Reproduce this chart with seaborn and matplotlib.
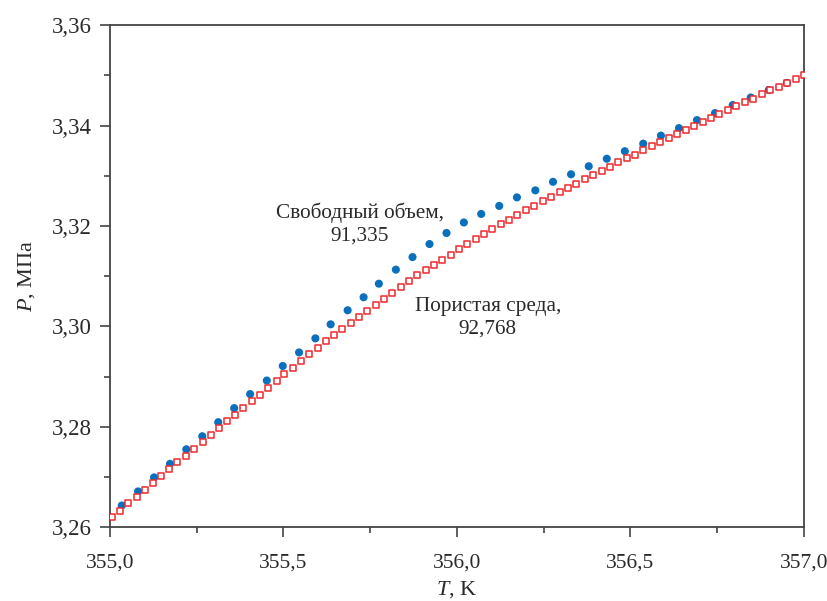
import numpy as np
import pandas as pd
import matplotlib
matplotlib.use("Agg")
import matplotlib.pyplot as plt
import seaborn as sns
from matplotlib.ticker import MultipleLocator, FuncFormatter

# Свободный объем (синие точки)
t_free = [354.986, 355.034, 355.081, 355.127, 355.173, 355.220, 355.266, 355.312, 355.358, 355.404,
          355.452, 355.498, 355.545, 355.592, 355.636, 355.685, 355.731, 355.775, 355.824, 355.872,
          355.921, 355.970, 356.020, 356.070, 356.122, 356.173, 356.226, 356.277, 356.329, 356.380,
          356.432, 356.484, 356.537, 356.588, 356.640, 356.692, 356.744, 356.795, 356.847, 356.899,
          356.951, 357.003]
p_free = [3.2615, 3.2643, 3.2671, 3.2699, 3.2726, 3.2755, 3.2781, 3.2809, 3.2837, 3.2865,
          3.2892, 3.2921, 3.2948, 3.2976, 3.3004, 3.3032, 3.3058, 3.3085, 3.3113, 3.3138,
          3.3164, 3.3186, 3.3207, 3.3224, 3.3240, 3.3257, 3.3271, 3.3288, 3.3303, 3.3319,
          3.3334, 3.3349, 3.3364, 3.3380, 3.3395, 3.3411, 3.3425, 3.3441, 3.3456, 3.3471,
          3.3485, 3.3501]

# Пористая среда (красные квадраты)
t_por = [354.981, 355.006, 355.029, 355.053, 355.077, 355.100, 355.123, 355.146, 355.171, 355.194,
         355.218, 355.242, 355.267, 355.290, 355.313, 355.337, 355.361, 355.384, 355.408, 355.432,
         355.456, 355.480, 355.503, 355.527, 355.551, 355.574, 355.599, 355.622, 355.646, 355.669,
         355.694, 355.718, 355.741, 355.766, 355.790, 355.814, 355.838, 355.862, 355.886, 355.910,
         355.934, 355.958, 355.982, 356.006, 356.030, 356.054, 356.078, 356.102, 356.126, 356.150,
         356.174, 356.198, 356.223, 356.247, 356.272, 356.296, 356.320, 356.344, 356.369, 356.393,
         356.417, 356.441, 356.465, 356.489, 356.513, 356.537, 356.561, 356.586, 356.611, 356.635,
         356.659, 356.684, 356.708, 356.732, 356.756, 356.781, 356.805, 356.829, 356.853, 356.878,
         356.902, 356.927, 356.952, 356.976, 357.001]
p_por = [3.2606, 3.2620, 3.2633, 3.2647, 3.2660, 3.2674, 3.2688, 3.2701, 3.2715, 3.2729,
         3.2742, 3.2756, 3.2770, 3.2784, 3.2797, 3.2811, 3.2824, 3.2838, 3.2851, 3.2864,
         3.2878, 3.2891, 3.2905, 3.2917, 3.2931, 3.2944, 3.2957, 3.2970, 3.2982, 3.2994,
         3.3006, 3.3018, 3.3030, 3.3042, 3.3054, 3.3066, 3.3078, 3.3090, 3.3102, 3.3112,
         3.3122, 3.3132, 3.3143, 3.3154, 3.3164, 3.3174, 3.3184, 3.3193, 3.3203, 3.3212,
         3.3222, 3.3232, 3.3240, 3.3249, 3.3258, 3.3267, 3.3275, 3.3284, 3.3293, 3.3301,
         3.3309, 3.3318, 3.3327, 3.3335, 3.3342, 3.3351, 3.3359, 3.3367, 3.3376, 3.3384,
         3.3391, 3.3399, 3.3407, 3.3415, 3.3423, 3.3431, 3.3439, 3.3447, 3.3454, 3.3462,
         3.3470, 3.3477, 3.3485, 3.3492, 3.3500]

df_free = pd.DataFrame({'T': t_free, 'P': p_free})
df_por = pd.DataFrame({'T': t_por, 'P': p_por})

sns.set_style("white")
plt.rcParams['font.family'] = ['Liberation Serif', 'DejaVu Serif']
plt.rcParams['mathtext.fontset'] = 'custom'
plt.rcParams['mathtext.it'] = 'Liberation Serif:italic'
plt.rcParams['mathtext.rm'] = 'Liberation Serif'

txt = '#2a2a2a'
fig = plt.figure(figsize=(8.27, 6.01), dpi=100)
ax = fig.add_axes([0.133, 0.123, 0.839, 0.835])

sns.scatterplot(data=df_free, x='T', y='P', ax=ax, color='#0a6fbd', s=34,
                edgecolor='none', marker='o', zorder=3)
sns.scatterplot(data=df_por, x='T', y='P', ax=ax, facecolor='white', s=15,
                edgecolor='#ee2a2e', linewidth=1.1, marker='s', zorder=4)

ax.set_xlim(355.0, 357.0)
ax.set_ylim(3.26, 3.36)
ax.xaxis.set_major_locator(MultipleLocator(0.5))
ax.xaxis.set_minor_locator(MultipleLocator(0.25))
ax.yaxis.set_major_locator(MultipleLocator(0.02))
ax.yaxis.set_minor_locator(MultipleLocator(0.01))
ax.xaxis.set_major_formatter(FuncFormatter(lambda v, p: f"{v:.1f}".replace('.', ',')))
ax.yaxis.set_major_formatter(FuncFormatter(lambda v, p: f"{v:.2f}".replace('.', ',')))

ax.tick_params(axis='both', which='major', direction='out', length=7, width=1.2,
               color='#444444', labelcolor=txt, bottom=True, left=True,
               top=False, right=False)
ax.tick_params(axis='x', which='major', pad=12, labelsize=15.5)
ax.tick_params(axis='y', which='major', pad=6, labelsize=16.5)
ax.tick_params(axis='both', which='minor', direction='out', length=4.5, width=1.2,
               color='#444444', bottom=True, left=True, top=False, right=False)
for sp in ax.spines.values():
    sp.set_visible(True)
    sp.set_color('#444444')
    sp.set_linewidth(1.3)

ax.set_xlabel(r'$\mathit{T}$, K', fontsize=16, color=txt, labelpad=5)
ax.set_ylabel(r'$\mathit{P}$, МПа', fontsize=16, color=txt, labelpad=11)

ax.text(355.720, 3.3204, 'Свободный объем,\n91,335', ha='center', va='center',
        fontsize=15.3, color=txt, linespacing=1.2)
ax.text(356.089, 3.3017, 'Пористая среда,\n92,768', ha='center', va='center',
        fontsize=15.3, color=txt, linespacing=1.2)

plt.savefig('out.png', dpi=100)
